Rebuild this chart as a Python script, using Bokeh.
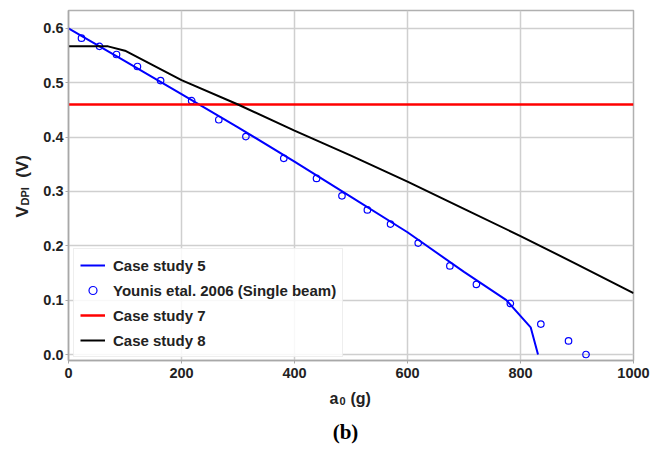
import math
from bokeh.plotting import figure
from bokeh.models import Range1d, Label, Legend, LegendItem, FixedTicker, CustomJSTickFormatter
from bokeh.embed import file_html
from bokeh.resources import INLINE

cs5_x = [0, 100, 200, 300, 400, 500, 600, 700, 775, 818, 831]
cs5_y = [0.600, 0.540, 0.479, 0.418, 0.355, 0.290, 0.225, 0.152, 0.100, 0.050, 0.0]
yo_x = [23, 55, 85, 122, 163, 218, 266, 314, 381, 439, 484, 529, 570, 619, 675, 722, 782, 836, 885, 916]
yo_y = [0.582, 0.567, 0.552, 0.530, 0.504, 0.467, 0.432, 0.401, 0.361, 0.324, 0.292, 0.266,
        0.240, 0.205, 0.163, 0.129, 0.094, 0.056, 0.025, 0.0]
cs7_x = [0, 1000]
cs7_y = [0.46, 0.46]
cs8_x = [0, 70, 100, 200, 300, 400, 500, 600, 700, 800, 900, 1000]
cs8_y = [0.567, 0.567, 0.559, 0.505, 0.460, 0.412, 0.366, 0.318, 0.268, 0.218, 0.166, 0.113]
x_ticks = [0, 200, 400, 600, 800, 1000]
y_ticks = [0.0, 0.1, 0.2, 0.3, 0.4, 0.5, 0.6]

FONT = "Liberation Sans"
TXT = "#222222"

p = figure(width=660, height=450, output_backend="svg", toolbar_location=None,
           x_range=Range1d(0, 1000), y_range=Range1d(-0.011, 0.633),
           min_border_left=68, min_border_right=27, min_border_top=10, min_border_bottom=90)
p.outline_line_color = "#b0b0b0"
p.outline_line_width = 1.5

for ax in (p.xaxis[0], p.yaxis[0]):
    ax.axis_line_color = "#a8a8a8"
    ax.axis_line_width = 1.5
    ax.major_tick_line_color = "#a8a8a8"
    ax.major_tick_out = 3
    ax.major_tick_in = 0
    ax.minor_tick_line_color = None
    ax.major_label_text_font = FONT
    ax.major_label_text_font_style = "bold"
    ax.major_label_text_font_size = "14.5px"
    ax.major_label_text_color = TXT
p.xaxis[0].ticker = FixedTicker(ticks=x_ticks)
p.yaxis[0].ticker = FixedTicker(ticks=y_ticks)
p.xaxis[0].major_label_standoff = 4
p.yaxis[0].major_label_standoff = 2
p.yaxis[0].formatter = CustomJSTickFormatter(code="return tick.toFixed(1);")

p.xgrid.grid_line_color = "#cfcfcf"
p.ygrid.grid_line_color = "#cfcfcf"
p.xgrid.grid_line_width = 1.5
p.ygrid.grid_line_width = 1.5

r5 = p.line(cs5_x, cs5_y, line_color="#0000ff", line_width=2)
ryo = p.scatter(yo_x, yo_y, marker="circle", size=6.5, fill_color=None,
                line_color="#0000ff", line_width=1.2)
r7 = p.line(cs7_x, cs7_y, line_color="#ff0000", line_width=2.5)
r8 = p.line(cs8_x, cs8_y, line_color="black", line_width=2)

legend = Legend(items=[
    LegendItem(label="Case study 5", renderers=[r5]),
    LegendItem(label="Younis etal. 2006 (Single beam)", renderers=[ryo]),
    LegendItem(label="Case study 7", renderers=[r7]),
    LegendItem(label="Case study 8", renderers=[r8]),
], location=(5, 3))
legend.label_text_font = FONT
legend.label_text_font_style = "bold"
legend.label_text_font_size = "15px"
legend.label_text_color = TXT
legend.padding = 6
legend.spacing = 5
legend.label_height = 20
legend.glyph_height = 20
legend.glyph_width = 25
legend.label_standoff = 8
legend.border_line_color = "#dddddd"
legend.border_line_width = 1.5
legend.background_fill_alpha = 0.85
legend.margin = 0
p.add_layout(legend, "center")

def lab(**kw):
    base = dict(x_units="screen", y_units="screen", text_font=FONT, text_font_style="bold",
                text_color=TXT, text_baseline="alphabetic", text_align="left")
    base.update(kw)
    return Label(**base)

# x-axis label pieces, in the bottom side panel (not clipped there)
p.add_layout(lab(x=261, y=-1, text="a\u00a0\u00a0\u2009(g)", text_font_size="16px"), "below")
p.add_layout(lab(x=271, y=5, text="0", text_font_size="11px"), "below")
p.add_layout(lab(x=277, y=-2, text="(b)", text_font="Liberation Serif", text_font_size="21px",
                 text_color="black", text_baseline="middle", text_align="center"), "below")

# y-axis label pieces, in the left side panel
ang = math.pi / 2
p.add_layout(lab(x=1, y=143, angle=ang, text="V\u00a0\u00a0\u00a0\u00a0\u00a0\u00a0(V)",
                 text_font_size="17px"), "left")
p.add_layout(lab(x=15, y=155, angle=ang, text="DPI", text_font_size="11px"), "left")

open("out.html", "w").write(file_html(p, INLINE))
